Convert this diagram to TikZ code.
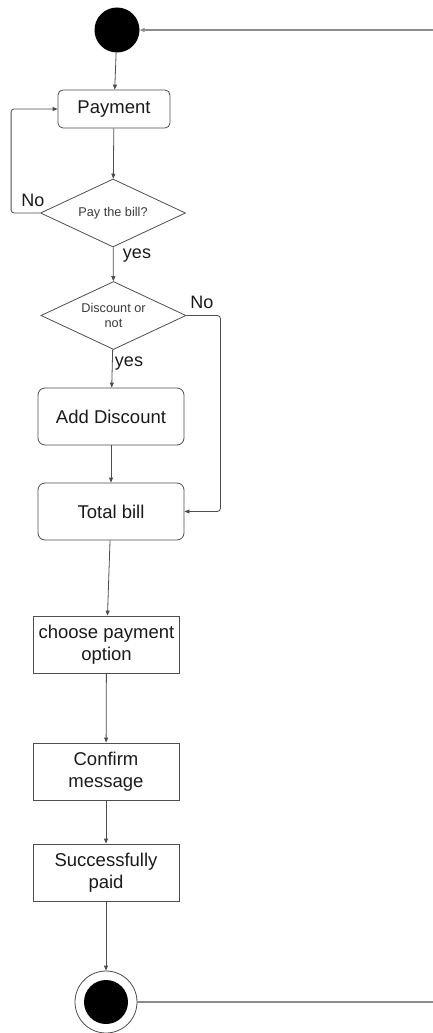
\documentclass[tikz,border=0pt]{standalone}
\usepackage{fontspec}
\setmainfont{Liberation Sans}
\usetikzlibrary{shapes.geometric,arrows.meta}
\definecolor{edgegray}{HTML}{4D4D4D}
\definecolor{railgray}{HTML}{8C8C8C}
\definecolor{boxtext}{HTML}{1A1A1A}
\definecolor{smalltext}{HTML}{3A3A3A}
\begin{document}
\begin{tikzpicture}[x=1pt,y=-1pt,
  flow/.style={draw=edgegray, line width=0.8pt, -{Triangle[length=5pt,width=4pt]}},
  rail/.style={draw=railgray, line width=1.2pt},
  boxfont/.style={font=\fontsize{18.5}{22.5}\selectfont, text=boxtext},
  actbox/.style={boxfont, draw=edgegray, line width=0.8pt, rounded corners=7pt,
    minimum width=146pt, minimum height=57pt, inner sep=0pt, align=center},
  stepbox/.style={boxfont, draw=edgegray, line width=0.8pt,
    minimum width=146pt, minimum height=57pt, inner sep=0pt, align=center},
  decision/.style={diamond, draw=edgegray, line width=0.8pt, aspect=2.15,
    minimum width=145pt, minimum height=68pt, inner sep=0pt, align=center,
    font=\fontsize{12.7}{14.3}\selectfont, text=smalltext},
  guard/.style={font=\fontsize{18}{20}\selectfont, text=boxtext, inner sep=0pt}]

\useasboundingbox (0,0) rectangle (433,1033);

% initial and final states
\node[circle, fill=black, minimum size=45pt, inner sep=0pt] (start) at (117,30) {};
\node[circle, draw=edgegray, line width=0.8pt, fill=white, minimum size=62pt, inner sep=0pt] (endo) at (106,1002) {};
\node[circle, fill=black, minimum size=44pt, inner sep=0pt] (endi) at (106,1002) {};

% activities
\node[actbox, rounded corners=5pt, minimum width=112pt, minimum height=38pt] (pay) at (114,109) {Payment};
\node[decision] (d1) at (113,213) {Pay the bill?};
\node[decision] (d2) at (113.5,315.5) {Discount or\\not};
\node[actbox] (add) at (111,416.5) {Add Discount};
\node[actbox] (total) at (111,511.5) {Total bill};
\node[stepbox] (choose) at (106.5,644.5) {choose payment\\option};
\node[stepbox] (confirm) at (106,771.5) {Confirm\\message};
\node[stepbox] (success) at (106,872.5) {Successfully\\paid};

% guard labels
\node[guard] (no1) at (33,200) {No};
\node[guard] (yes1) at (137,256) {yes};
\node[guard] (no2) at (202,302) {No};
\node[guard] (yes2) at (129,364) {yes};

% free ends of the long rails
\coordinate (railtop) at (433,30);
\coordinate (railbot) at (433,1002);

% connectors
\draw[rail, -{Triangle[length=5pt,width=4pt]}] (railtop) -- (start);
\draw[rail] (endo) -- (railbot);
\draw[flow] (start) -- (pay);
\draw[flow] (pay) -- (d1);
\draw[flow, rounded corners=3pt] (d1.west) -- ++(-29,0) |- (pay.west);
\draw[flow] (d1) -- (d2);
\draw[flow] (d2) -- (add);
\draw[flow, rounded corners=3pt] (d2.east) -- ++(34,0) |- (total.east);
\draw[flow] (add) -- (total);
\draw[flow] (total) -- (choose);
\draw[flow] (choose) -- (confirm);
\draw[flow] (confirm) -- (success);
\draw[flow] (success) -- (endo);
\end{tikzpicture}
\end{document}
